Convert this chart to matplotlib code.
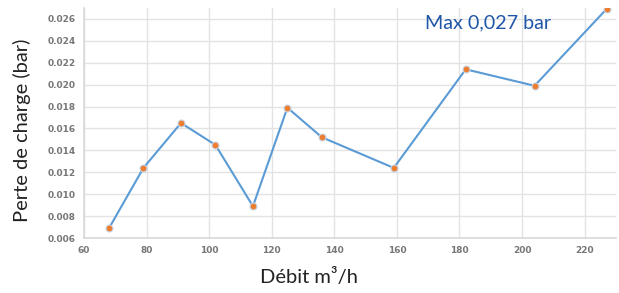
import matplotlib.pyplot as plt

debit = [68, 79, 91, 102, 114, 125, 136, 159, 182, 204, 227]
perte = [0.0069, 0.0124, 0.0165, 0.0145, 0.0089, 0.0179, 0.0152, 0.0124, 0.0214, 0.0199, 0.0269]

xticks = [60, 80, 100, 120, 140, 160, 180, 200, 220]
yticks = [0.006, 0.008, 0.010, 0.012, 0.014, 0.016, 0.018, 0.020, 0.022, 0.024, 0.026]

fig = plt.figure(figsize=(6.19, 2.93), dpi=100)
ax = fig.add_axes([0.1357, 0.1877, 0.8593, 0.785])

ax.plot(debit, perte, '-', color='#5b9bd5', lw=1.5, zorder=3)
ax.plot(debit, perte, 'o', ms=5, mfc='#ed7d31', mec='#c9d6e8', mew=0.8, zorder=4)

ax.set_xlim(60, 230)
ax.set_ylim(0.006, 0.027)
ax.set_xticks(xticks)
ax.set_yticks(yticks)
ax.set_yticklabels(['%.3f' % v for v in yticks])
ax.grid(True, color='#e3e3e3', lw=1)
ax.set_axisbelow(True)

for s in ['top', 'right']:
    ax.spines[s].set_visible(False)
for s in ['left', 'bottom']:
    ax.spines[s].set_color('#d9d9d9')
    ax.spines[s].set_linewidth(1.2)

ax.tick_params(length=0, pad=6, labelsize=6.5, labelcolor='#777777')
for lab in ax.get_xticklabels() + ax.get_yticklabels():
    lab.set_fontweight('bold')

# axis titles placed in figure coords (x title centred on the figure)
fig.text(0.036, 0.555, 'Perte de charge (bar)', rotation=90, ha='center', va='center',
         fontsize=14.5, family='Lato', color='#222222')
fig.text(0.5, 0.055, 'Débit m³/h', ha='center', va='center',
         fontsize=14.5, family='Lato', color='#222222')

ax.text(0.76, 0.935, 'Max 0,027 bar', transform=ax.transAxes, ha='center', va='center',
        fontsize=14.2, family='Lato', color='#1f56a8')

fig.savefig('out.png', dpi=100)
